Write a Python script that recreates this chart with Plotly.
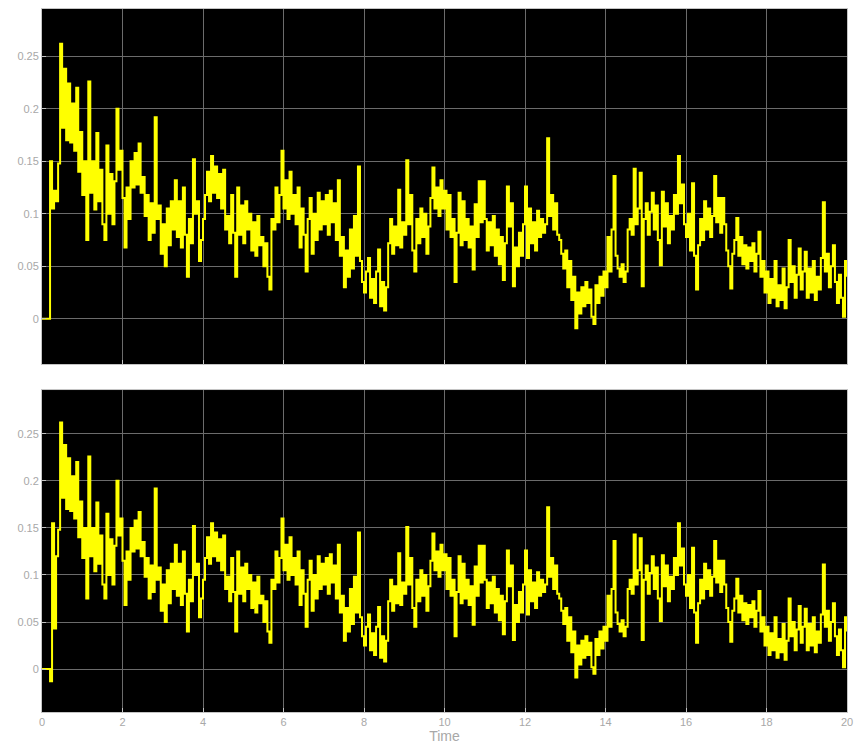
import plotly.graph_objects as go
from plotly.subplots import make_subplots

# Sample time of the logged signal (zero-order hold)
SAMPLE_TIME = 0.05

# Logged signal, one row per half second of simulation time
signal = [
    0.000, 0.000, 0.000, 0.000, 0.150, 0.105, 0.122, 0.112, 0.148, 0.262,
    0.182, 0.238, 0.170, 0.224, 0.168, 0.205, 0.160, 0.220, 0.140, 0.178,
    0.118, 0.150, 0.075, 0.226, 0.120, 0.150, 0.104, 0.177, 0.112, 0.142,
    0.090, 0.075, 0.165, 0.100, 0.138, 0.090, 0.131, 0.200, 0.142, 0.160,
    0.115, 0.068, 0.125, 0.095, 0.150, 0.125, 0.158, 0.128, 0.167, 0.120,
    0.135, 0.098, 0.118, 0.075, 0.110, 0.082, 0.192, 0.095, 0.108, 0.062,
    0.090, 0.050, 0.105, 0.070, 0.112, 0.085, 0.132, 0.078, 0.112, 0.068,
    0.125, 0.080, 0.040, 0.095, 0.072, 0.152, 0.100, 0.112, 0.055, 0.075,
    0.095, 0.118, 0.140, 0.112, 0.155, 0.120, 0.145, 0.115, 0.138, 0.105,
    0.142, 0.085, 0.098, 0.072, 0.118, 0.082, 0.040, 0.125, 0.080, 0.108,
    0.072, 0.112, 0.085, 0.100, 0.065, 0.092, 0.060, 0.098, 0.070, 0.078,
    0.050, 0.072, 0.040, 0.028, 0.095, 0.085, 0.125, 0.092, 0.118, 0.160,
    0.105, 0.132, 0.095, 0.140, 0.100, 0.118, 0.090, 0.125, 0.068, 0.105,
    0.080, 0.045, 0.095, 0.115, 0.062, 0.100, 0.075, 0.120, 0.085, 0.112,
    0.090, 0.118, 0.080, 0.122, 0.092, 0.110, 0.075, 0.132, 0.060, 0.078,
    0.030, 0.065, 0.040, 0.085, 0.048, 0.098, 0.060, 0.145, 0.055, 0.035,
    0.025, 0.045, 0.058, 0.020, 0.038, 0.015, 0.045, 0.066, 0.012, 0.035,
    0.008, 0.030, 0.072, 0.095, 0.062, 0.088, 0.070, 0.123, 0.068, 0.092,
    0.080, 0.151, 0.090, 0.118, 0.065, 0.045, 0.095, 0.072, 0.105, 0.078,
    0.100, 0.062, 0.088, 0.115, 0.144, 0.105, 0.125, 0.098, 0.132, 0.105,
    0.122, 0.085, 0.118, 0.078, 0.095, 0.035, 0.082, 0.120, 0.070, 0.112,
    0.075, 0.095, 0.068, 0.088, 0.047, 0.109, 0.078, 0.131, 0.092, 0.131,
    0.095, 0.065, 0.092, 0.070, 0.098, 0.060, 0.085, 0.052, 0.078, 0.037,
    0.072, 0.126, 0.088, 0.110, 0.031, 0.068, 0.050, 0.082, 0.060, 0.090,
    0.126, 0.058, 0.105, 0.072, 0.092, 0.065, 0.103, 0.078, 0.095, 0.082,
    0.090, 0.172, 0.098, 0.118, 0.085, 0.110, 0.080, 0.075, 0.062, 0.048,
    0.065, 0.030, 0.055, 0.018, 0.040, -0.009, 0.025, 0.005, 0.030, 0.012,
    0.035, 0.015, 0.028, 0.002, -0.005, 0.032, 0.015, 0.040, 0.022, 0.045,
    0.030, 0.078, 0.045, 0.085, 0.136, 0.060, 0.048, 0.040, 0.052, 0.035,
    0.045, 0.085, 0.095, 0.080, 0.143, 0.090, 0.105, 0.139, 0.031, 0.095,
    0.110, 0.080, 0.102, 0.120, 0.085, 0.108, 0.075, 0.051, 0.121, 0.088,
    0.110, 0.072, 0.098, 0.085, 0.118, 0.100, 0.155, 0.110, 0.128, 0.090,
    0.078, 0.100, 0.065, 0.129, 0.060, 0.028, 0.070, 0.095, 0.075, 0.112,
    0.085, 0.105, 0.078, 0.098, 0.136, 0.092, 0.115, 0.082, 0.115, 0.090,
    0.065, 0.050, 0.029, 0.062, 0.075, 0.096, 0.060, 0.078, 0.052, 0.070,
    0.048, 0.068, 0.055, 0.072, 0.045, 0.062, 0.083, 0.040, 0.055, 0.025,
    0.045, 0.015, 0.038, 0.020, 0.055, 0.012, 0.032, 0.018, 0.048, 0.010,
    0.030, 0.075, 0.035, 0.050, 0.020, 0.042, 0.067, 0.028, 0.045, 0.064,
    0.020, 0.048, 0.025, 0.055, 0.018, 0.040, 0.028, 0.058, 0.111, 0.045,
    0.062, 0.030, 0.050, 0.070, 0.035, 0.015, 0.042, 0.020, 0.002, 0.055,
    0.040,
]

# Second channel: same signal, with its own start-up transient
startup_lower = [0.000, 0.000, 0.000, 0.000, -0.013, 0.155, 0.043, 0.120, 0.148]
signal_lower = startup_lower + signal[len(startup_lower):]

time = [round(i * SAMPLE_TIME, 4) for i in range(len(signal))]

x_ticks = [0, 2, 4, 6, 8, 10, 12, 14, 16, 18, 20]
y_ticks = [0, 0.05, 0.1, 0.15, 0.2, 0.25]
y_tick_text = ["0", "0.05", "0.1", "0.15", "0.2", "0.25"]

TRACE = "#FFFF00"
GRID = "#6b6b6b"
FRAME = "#c4c4c4"
LABEL = "#a8a8a8"
FONT = "Liberation Sans, Arial, sans-serif"

fig = make_subplots(rows=2, cols=1, shared_xaxes=True, vertical_spacing=0.0)

for row, y in ((1, signal), (2, signal_lower)):
    fig.add_trace(
        go.Scatter(
            x=time, y=y, mode="lines",
            line=dict(color=TRACE, width=2, shape="hv"),
            showlegend=False, hoverinfo="skip",
        ),
        row=row, col=1,
    )

axis_common = dict(
    showgrid=True, gridcolor=GRID, gridwidth=1,
    zeroline=False,
    showline=True, linecolor=FRAME, linewidth=1, mirror=True,
    ticks="inside", ticklen=4, tickcolor=FRAME,
    tickfont=dict(family=FONT, size=11, color=LABEL),
)

fig.update_xaxes(range=[0, 20], tickvals=x_ticks, **axis_common)
fig.update_xaxes(showticklabels=False, row=1, col=1)
fig.update_xaxes(
    title=dict(text="Time", font=dict(family=FONT, size=14, color=LABEL), standoff=2),
    row=2, col=1,
)

fig.update_yaxes(tickvals=y_ticks, ticktext=y_tick_text, **axis_common)
fig.update_yaxes(range=[-0.043, 0.295], domain=[0.495, 1.0], row=1, col=1)
fig.update_yaxes(range=[-0.0456, 0.2965], domain=[0.0, 0.458], row=2, col=1)

fig.update_layout(
    width=861, height=753,
    margin=dict(l=42, r=8, t=9, b=41),
    paper_bgcolor="#ffffff",
    plot_bgcolor="#000000",
    font=dict(family=FONT, color=LABEL),
)

fig.write_html("out.html")
